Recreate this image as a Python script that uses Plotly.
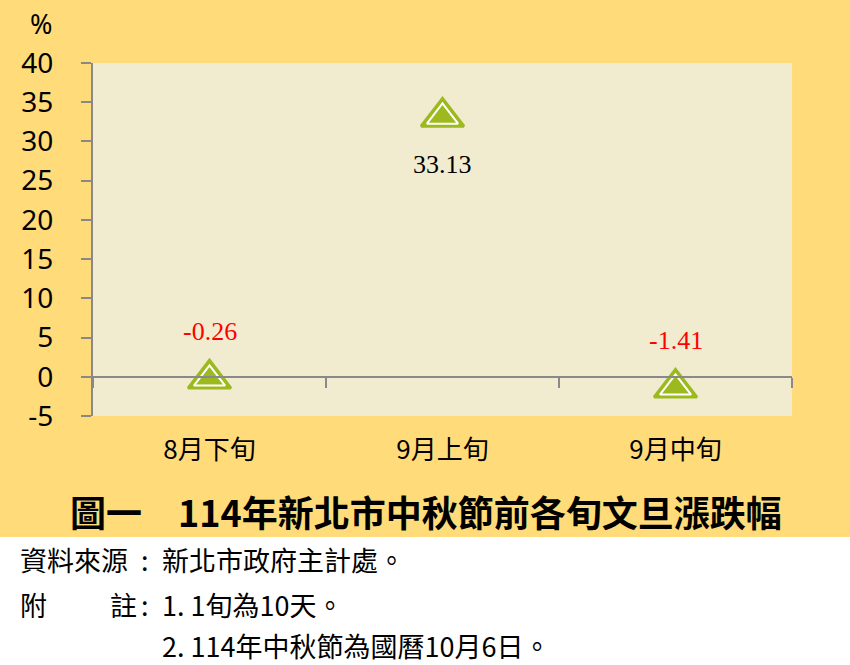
import plotly.graph_objects as go

# ---- data ----
categories = ["8月下旬", "9月上旬", "9月中旬"]
values = [-0.26, 33.13, -1.41]
value_labels = ["-0.26", "33.13", "-1.41"]
label_colors = ["#FF0000", "#000000", "#FF0000"]
label_above = [True, False, True]
y_ticks = [-5, 0, 5, 10, 15, 20, 25, 30, 35, 40]

title_text = "圖一　114年新北市中秋節前各旬文旦漲跌幅"
note_source_label = "資料來源"
note_source_text = "新北市政府主計處。"
note_label_a = "附"
note_label_b = "註"
note_lines = ["1. 1旬為10天。", "2. 114年中秋節為國曆10月6日。"]

# ---- layout geometry (pixels) ----
W, H = 850, 665
L, R, T, B = 93, 792, 63, 416
PW, PH = R - L, B - T


def px(x):
    return (x - L) / PW


def py(y):
    return (B - y) / PH


GREEN = "#9CBA1E"
GRAY = "#898989"
PAPER_YELLOW = "#FFDB7A"
PLOT_BG = "#F1ECD0"
CJK = "Noto Sans CJK TC"

fig = go.Figure()

# outer green triangle
fig.add_trace(go.Scatter(
    x=categories, y=values, mode="markers", xaxis="x", yaxis="y",
    marker=dict(symbol="triangle-up", size=37, color=GREEN,
                line=dict(color=GREEN, width=3)),
    hoverinfo="skip", showlegend=False))
# inner triangle with white outline
fig.add_trace(go.Scatter(
    x=categories, y=values, mode="markers", xaxis="x", yaxis="y",
    marker=dict(symbol="triangle-up", size=27, color=GREEN,
                line=dict(color="white", width=2)),
    hoverinfo="skip", showlegend=False))
# invisible trace to carry the zero-line tick axis
fig.add_trace(go.Scatter(
    x=categories, y=values, mode="markers", xaxis="x2", yaxis="y",
    marker=dict(opacity=0), hoverinfo="skip", showlegend=False))

annotations = []
for c, v, t, col, above in zip(categories, values, value_labels, label_colors, label_above):
    annotations.append(dict(
        x=c, y=v, xref="x", yref="y", text=t, showarrow=False,
        font=dict(family="Liberation Serif", size=26, color=col),
        yshift=47 if above else -48, xanchor="center", yanchor="middle"))

# percent sign
annotations.append(dict(x=px(41), y=py(24), xref="paper", yref="paper", text="%",
                        showarrow=False, font=dict(family="Noto Sans", size=27, color="black"),
                        xanchor="center", yanchor="middle"))
# title
annotations.append(dict(x=px(426), y=py(511), xref="paper", yref="paper", text=f"<b>{title_text}</b>",
                        showarrow=False, font=dict(family=CJK, size=36, color="black"),
                        xanchor="center", yanchor="middle"))
# notes
note_font = dict(family=CJK, size=27, color="black")
annotations.append(dict(x=px(18), y=py(559), xref="paper", yref="paper", text=note_source_label,
                        showarrow=False, font=note_font, xanchor="left", yanchor="middle"))
annotations.append(dict(x=px(18), y=py(604), xref="paper", yref="paper", text=note_label_a,
                        showarrow=False, font=note_font, xanchor="left", yanchor="middle"))
annotations.append(dict(x=px(139), y=py(604), xref="paper", yref="paper", text=note_label_b,
                        showarrow=False, font=note_font, xanchor="right", yanchor="middle"))
for yy in (559, 604):
    annotations.append(dict(x=px(145), y=py(yy), xref="paper", yref="paper", text=":",
                            showarrow=False, font=note_font, xanchor="center", yanchor="middle"))
annotations.append(dict(x=px(160), y=py(559), xref="paper", yref="paper", text=note_source_text,
                        showarrow=False, font=note_font, xanchor="left", yanchor="middle"))
for yy, line in zip((604, 645), note_lines):
    annotations.append(dict(x=px(160), y=py(yy), xref="paper", yref="paper", text=line,
                            showarrow=False, font=note_font, xanchor="left", yanchor="middle"))

# white band below the yellow chart area (outside the plot region)
shapes = [dict(type="rect", xref="paper", yref="paper", x0=px(0), x1=px(W), y0=py(H), y1=py(537),
               fillcolor="white", line=dict(width=0), layer="below")]

y_min, y_max = y_ticks[0], y_ticks[-1]
zero_pos = (0 - y_min) / (y_max - y_min)

fig.update_layout(
    width=W, height=H,
    margin=dict(l=L, r=W - R, t=T, b=H - B, pad=0),
    paper_bgcolor=PAPER_YELLOW, plot_bgcolor=PLOT_BG,
    showlegend=False,
    xaxis=dict(type="category", range=[-0.5, 2.5], showline=False, ticks="",
               showgrid=False, zeroline=False,
               tickfont=dict(family=CJK, size=26, color="black"),
               ticklabelstandoff=16, fixedrange=True),
    xaxis2=dict(type="category", range=[-0.5, 2.5], overlaying="x", anchor="free",
                position=zero_pos, side="bottom", showline=True, linecolor=GRAY, linewidth=2,
                ticks="outside", tickson="boundaries", ticklen=10, tickwidth=2, tickcolor=GRAY,
                showticklabels=False, showgrid=False, zeroline=False),
    yaxis=dict(range=[y_min, y_max], tickvals=y_ticks, ticktext=[str(v) for v in y_ticks],
               showline=True, linecolor=GRAY, linewidth=2,
               ticks="outside", ticklen=10, tickwidth=2, tickcolor=GRAY,
               showgrid=False, zeroline=False,
               tickfont=dict(family="Noto Sans", size=28, color="black"),
               ticklabelstandoff=22),
    annotations=annotations,
    shapes=shapes,
)

fig.write_html("out.html", config={"displayModeBar": False},
               post_script="document.body.style.margin='0';")
